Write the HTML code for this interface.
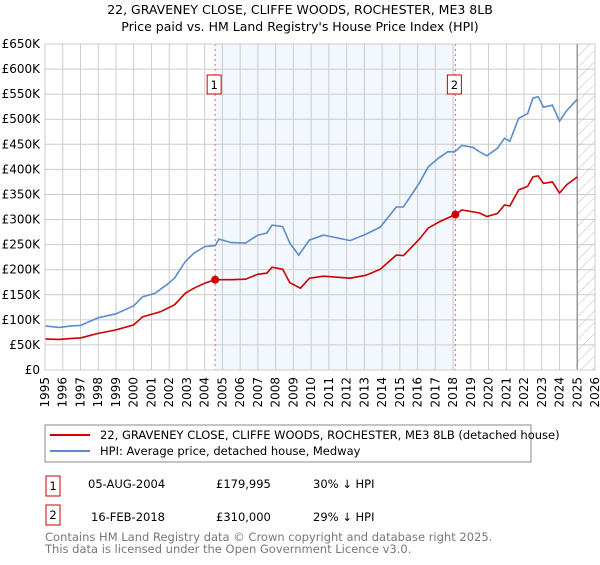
<!DOCTYPE html>
<html><head><meta charset="utf-8"><style>
body{margin:0;background:#fff;font-family:"Liberation Sans",sans-serif;}
svg text{font-family:"DejaVu Sans","Liberation Sans",sans-serif;}
</style></head><body>
<svg id="c" width="600" height="560" xmlns="http://www.w3.org/2000/svg">
<defs><pattern id="hatch" width="8" height="8" patternUnits="userSpaceOnUse" patternTransform="rotate(45)"><line x1="0" y1="0" x2="0" y2="8" stroke="#bbb" stroke-width="1"/></pattern></defs>
<text x="300" y="14" text-anchor="middle" font-size="12.5" fill="#000">22, GRAVENEY CLOSE, CLIFFE WOODS, ROCHESTER, ME3 8LB</text>
<text x="300" y="31" text-anchor="middle" font-size="12.5" fill="#000">Price paid vs. HM Land Registry's House Price Index (HPI)</text>
<g id="plot"></g>
<rect x="45" y="425" width="486" height="37" fill="#fff" stroke="#888"/>
<line x1="50" y1="435" x2="90" y2="435" stroke="#cc0000" stroke-width="2"/>
<text x="100" y="439" font-size="11.5">22, GRAVENEY CLOSE, CLIFFE WOODS, ROCHESTER, ME3 8LB (detached house)</text>
<line x1="50" y1="451" x2="90" y2="451" stroke="#5b8ccc" stroke-width="2"/>
<text x="100" y="455" font-size="11.5">HPI: Average price, detached house, Medway</text>
<g>
<rect x="46" y="476" width="14" height="20" fill="#fff" stroke="#cc0000"/>
<text x="53" y="490" text-anchor="middle" font-size="11.5">1</text>
<text x="88" y="488" font-size="11.5">05-AUG-2004</text>
<text x="216" y="488" font-size="11.5">£179,995</text>
<text x="313" y="488" font-size="11.5">30% ↓ HPI</text>
</g>
<g>
<rect x="46" y="505" width="14" height="20" fill="#fff" stroke="#cc0000"/>
<text x="53" y="519" text-anchor="middle" font-size="11.5">2</text>
<text x="91" y="521" font-size="11.5">16-FEB-2018</text>
<text x="216" y="521" font-size="11.5">£310,000</text>
<text x="313" y="521" font-size="11.5">29% ↓ HPI</text>
</g>
<text x="45" y="541" font-size="11.5" fill="#777">Contains HM Land Registry data © Crown copyright and database right 2025.</text>
<text x="45" y="553" font-size="11.5" fill="#777">This data is licensed under the Open Government Licence v3.0.</text>
</svg>
<script>
const hpiYears=[1995,1995.8,1996.5,1997,1998,1999,2000,2000.5,2001.2,2001.9,2002.3,2002.9,2003.4,2004,2004.6,2004.8,2005.5,2006.3,2007,2007.5,2007.8,2008.4,2008.8,2009.3,2009.9,2010.7,2012.2,2013.1,2013.9,2014.8,2015.2,2016.1,2016.6,2017.2,2017.7,2018.1,2018.5,2019.1,2019.5,2019.9,2020.5,2020.9,2021.2,2021.7,2022.2,2022.5,2022.8,2023.1,2023.6,2024,2024.4,2025];
const hpiValues=[88,85,88,89,104,112,128,146,153,171,183,216,233,246,248,261,254,253,269,273,289,286,253,229,259,269,258,271,285,325,325,373,405,423,435,435,448,444,435,427,442,462,456,502,511,542,545,524,528,496,517,540];
const priceYears=[1995,1995.8,1996.5,1997,1998,1999,2000,2000.5,2001.5,2002.3,2002.9,2003.4,2004,2004.59,2005.5,2006.3,2007,2007.5,2007.8,2008.4,2008.8,2009.4,2009.9,2010.7,2012.2,2013.1,2013.9,2014.8,2015.2,2016.1,2016.6,2017.2,2017.7,2018.13,2018.5,2019.5,2019.9,2020.5,2020.9,2021.2,2021.7,2022.2,2022.5,2022.8,2023.1,2023.6,2024,2024.4,2025];
const priceValues=[62,61,63,64,73,80,90,106,116,130,153,163,173,180,180,181,191,193,205,201,174,163,183,187,183,189,201,229,228,261,283,295,303,310,319,313,306,312,329,327,359,366,385,387,372,375,353,369,385];
const saleYears=[2004.59,2018.13];
const saleValues=[179.995,310];
const yTicks=[0,50,100,150,200,250,300,350,400,450,500,550,600,650];
const yTickLabels=["£0","£50K","£100K","£150K","£200K","£250K","£300K","£350K","£400K","£450K","£500K","£550K","£600K","£650K"];
const xTicks=[1995,1996,1997,1998,1999,2000,2001,2002,2003,2004,2005,2006,2007,2008,2009,2010,2011,2012,2013,2014,2015,2016,2017,2018,2019,2020,2021,2022,2023,2024,2025,2026];
const saleLabels=["1","2"];

const L=45,R=595,T=44,B=370;
const X=y=>L+(y-1995)*(R-L)/31;
const Y=v=>B-v*(B-T)/650;
const NS="http://www.w3.org/2000/svg";
const g=document.getElementById('plot');
function mk(tag,attrs,parent){const e=document.createElementNS(NS,tag);for(const k in attrs)e.setAttribute(k,attrs[k]);(parent||g).appendChild(e);return e;}

const shade=mk('rect',{x:X(saleYears[0]),y:T,width:X(saleYears[1])-X(saleYears[0]),height:B-T,fill:'#eef3fd',opacity:0.7});


const hatch=mk('rect',{x:X(2025),y:T,width:R-X(2025),height:B-T,fill:'url(#hatch)'});



xTicks.forEach(t=>{
  const l=mk('line',{x1:X(t),x2:X(t),y1:T,y2:B,stroke:'#ccc','stroke-width':1});
  
  
  const tx=mk('text',{x:0,y:0,'font-size':12,'text-anchor':'end',transform:`translate(${X(t)+4},377) rotate(-90)`});
  tx.textContent=t;
  
  
});
yTicks.forEach((t,i)=>{
  const l=mk('line',{x1:L,x2:R,y1:Y(t),y2:Y(t),stroke:'#ccc','stroke-width':1});
  
  
  const tx=mk('text',{x:40,y:Y(t)+4,'font-size':12,'text-anchor':'end'});
  tx.textContent=yTickLabels[i];
  
  
});
const nowLine=mk('line',{x1:X(2025),x2:X(2025),y1:T,y2:B,stroke:'#999','stroke-width':1.5});



saleYears.forEach((s,i)=>{
  const l=mk('line',{x1:X(s),x2:X(s),y1:T,y2:B,stroke:'#e66','stroke-width':1,'stroke-dasharray':'2,3'});
  
  
  const bx=mk('rect',{x:X(s)-8,y:75,width:14,height:19,fill:'#fff',stroke:'#cc0000'});
  
  
  const tx=mk('text',{x:X(s)-1,y:89,'font-size':11.5,'text-anchor':'middle'});
  tx.textContent=saleLabels[i];
  
  
});

function path(xs,vs){return xs.map((x,i)=>(i?'L':'M')+X(x).toFixed(1)+','+Y(vs[i]).toFixed(1)).join('');}
const hp=mk('path',{d:path(hpiYears,hpiValues),fill:'none',stroke:'#5b8ccc','stroke-width':1.6});


const pp=mk('path',{d:path(priceYears,priceValues),fill:'none',stroke:'#cc0000','stroke-width':1.6});


saleYears.forEach((s,i)=>{
  const c=mk('circle',{cx:X(s),cy:Y(saleValues[i]),r:4,fill:'#cc0000'});
  
  
});
const frame=mk('rect',{x:L,y:T,width:R-L,height:B-T,fill:'none',stroke:'#ccc'});


</script>
</body></html>
